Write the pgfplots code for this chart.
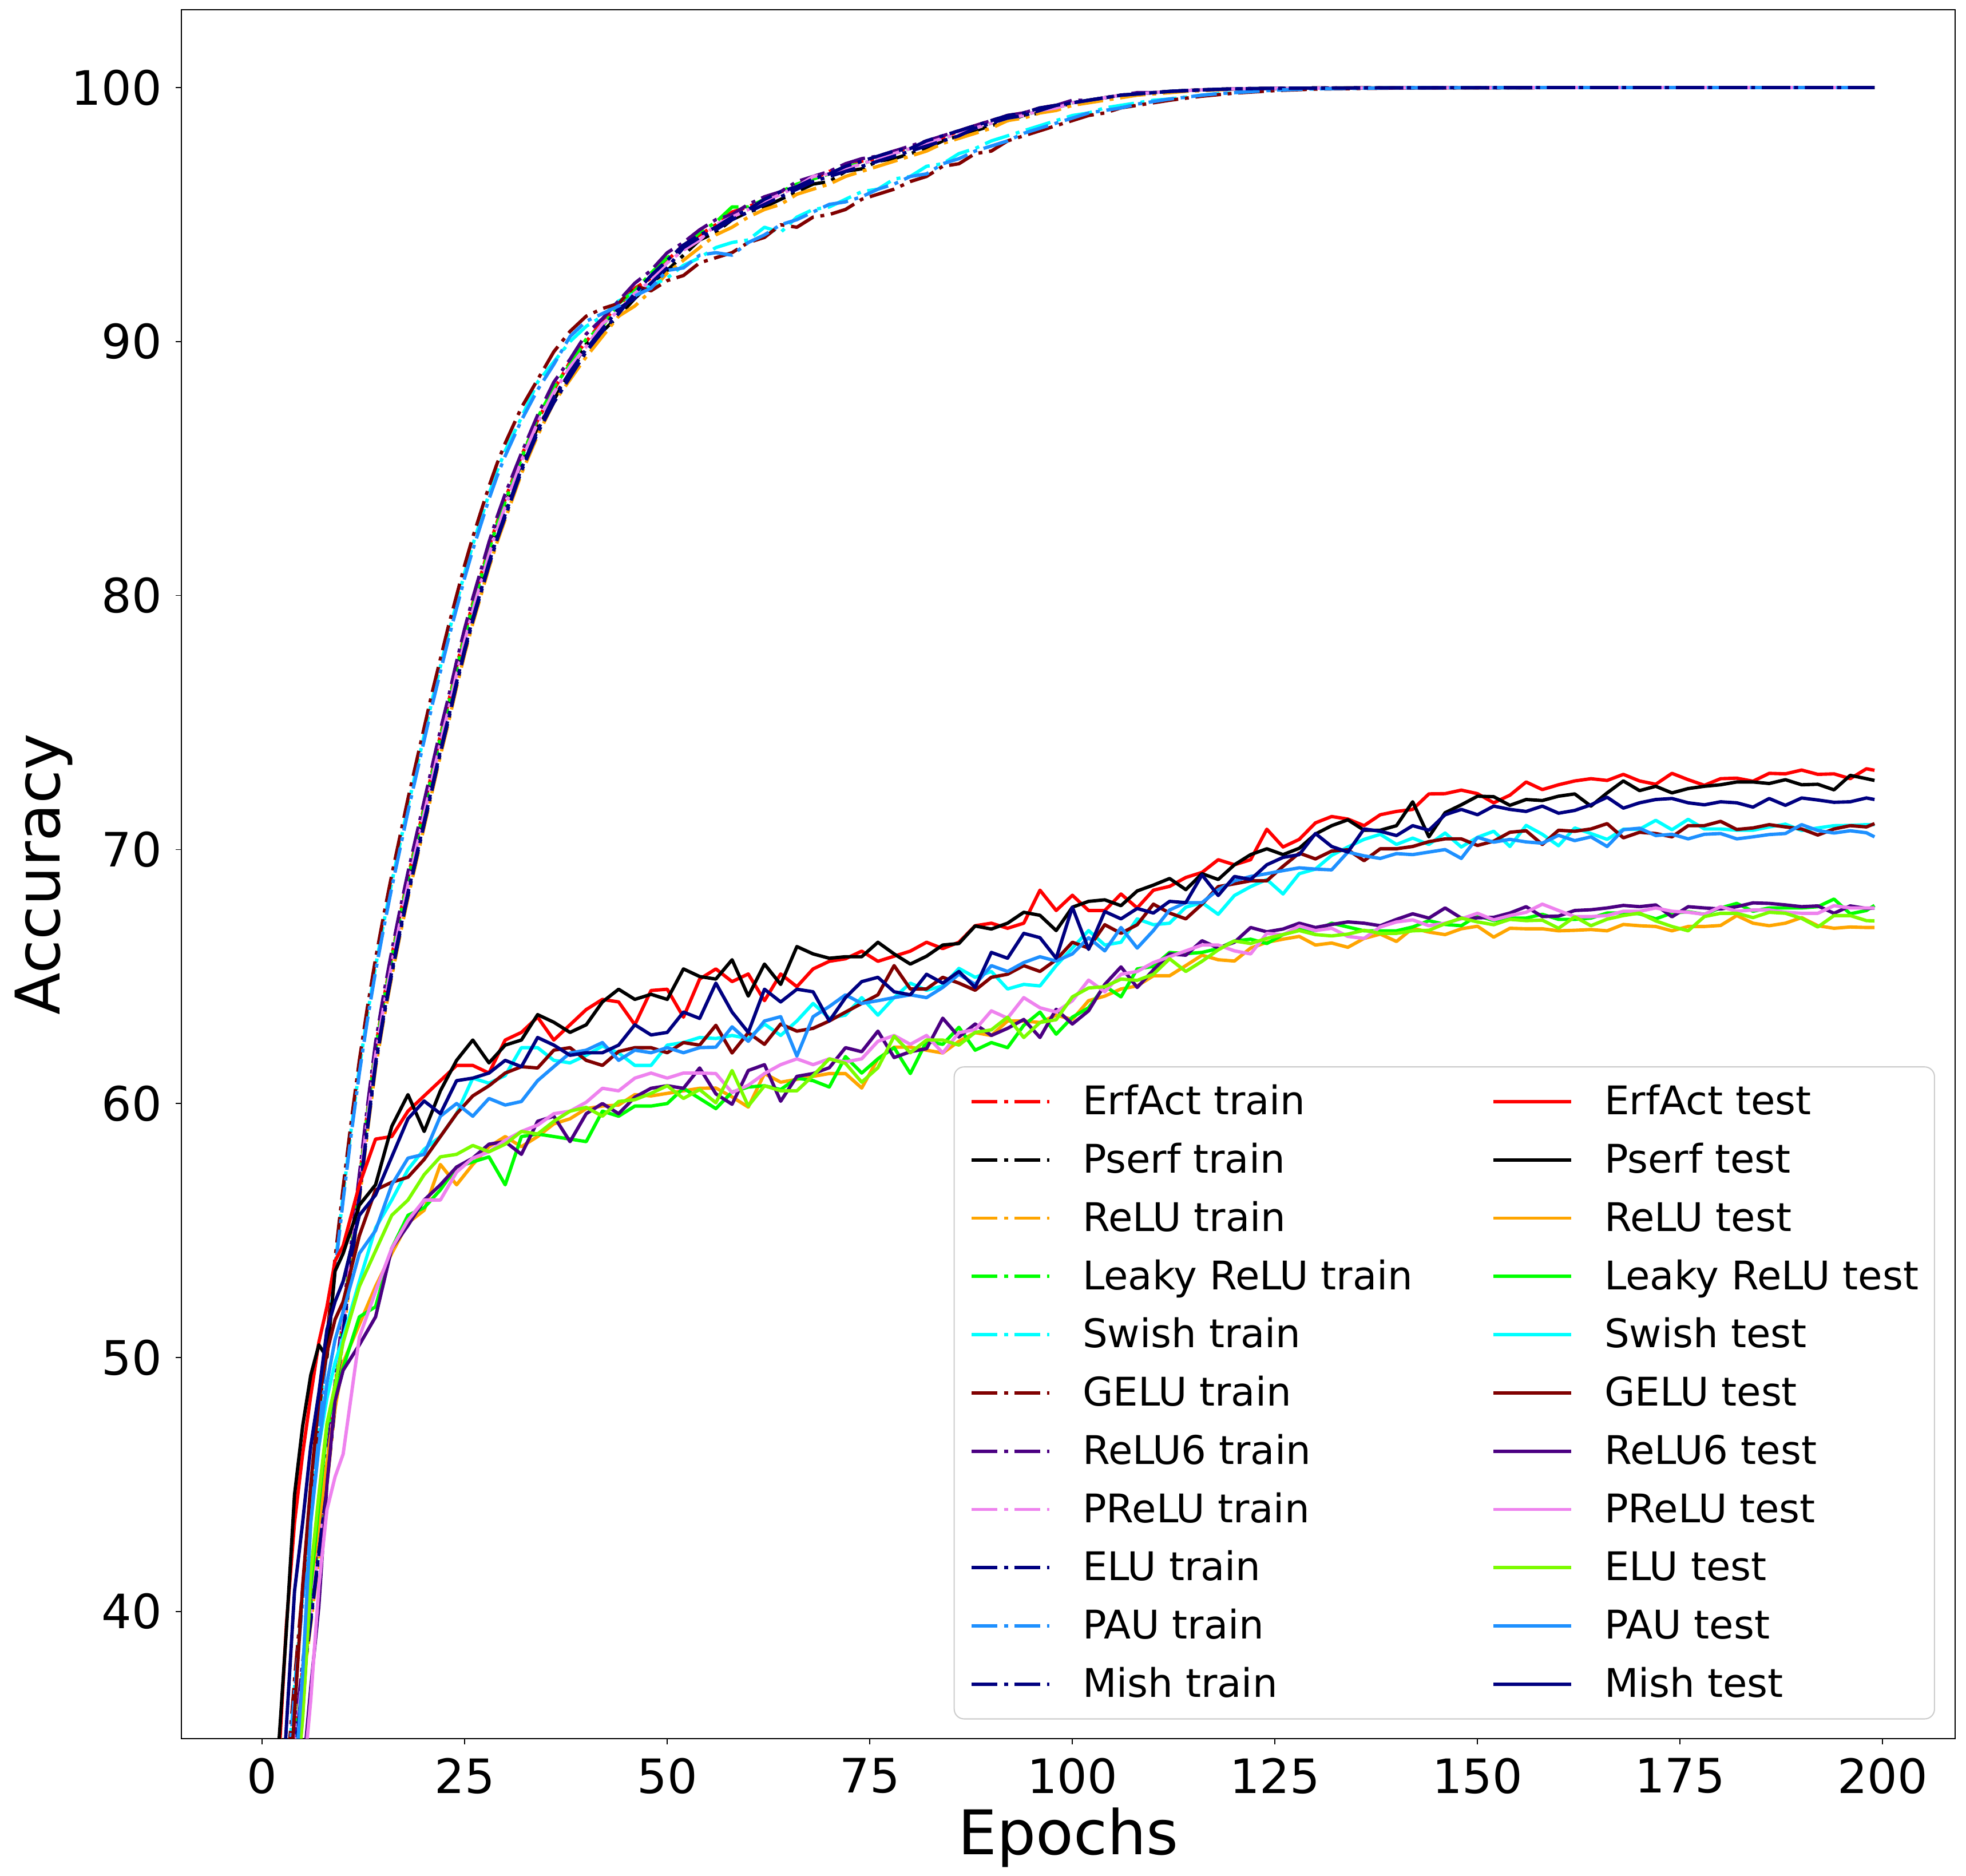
\documentclass[border=0pt]{standalone}
\usepackage{pgfplots}
\pgfplotsset{compat=1.18}
\usepackage{pgfplotstable}
\usepackage{fontspec}
\setmainfont{DejaVu Sans}

\definecolor{cRed}{HTML}{FF0000}
\definecolor{cOrange}{HTML}{FFA500}
\definecolor{cLime}{HTML}{00FF00}
\definecolor{cAqua}{HTML}{00FFFF}
\definecolor{cMaroon}{HTML}{800000}
\definecolor{cIndigo}{HTML}{4B0082}
\definecolor{cViolet}{HTML}{EE82EE}
\definecolor{cNavy}{HTML}{000080}
\definecolor{cLawn}{HTML}{7CFC00}
\definecolor{cDodger}{HTML}{1E90FF}
\definecolor{cFrame}{HTML}{CCCCCC}

% train accuracy per epoch
\pgfplotstableread{
ep erf pserf relu leaky swish gelu relu6 prelu elu pau mish
0 10.8 10.6 10.0 10.7 12.0 12.3 11.0 10.5 10.2 11.8 10.1
1 19.3 19.1 18.5 19.2 21.0 21.3 19.5 19.0 18.7 20.8 18.6
2 26.3 26.1 25.5 26.2 28.0 28.3 26.5 26.0 25.7 27.8 25.6
3 31.3 31.1 30.5 31.2 33.0 33.3 31.5 31.0 30.7 32.8 30.6
4 34.8 34.6 34.0 34.7 37.0 37.3 35.0 34.5 34.2 36.8 34.1
5 37.8 37.6 37.0 37.7 40.6 40.9 38.0 37.5 37.2 40.4 37.1
6 40.3 40.1 39.5 40.2 44.1 44.4 40.5 40.0 39.7 43.9 39.6
7 42.9 42.7 42.1 42.8 47.4 47.7 43.1 42.6 42.3 47.2 42.2
8 45.8 45.6 45.0 45.7 50.5 50.8 46.0 45.5 45.2 50.3 45.1
9 48.8 48.6 48.0 48.7 53.6 53.9 49.0 48.5 48.2 53.4 48.1
10 51.6 51.4 50.8 51.5 56.4 56.7 51.8 51.3 51.0 56.2 50.9
11 54.3 54.1 53.5 54.2 59.0 59.3 54.5 54.0 53.7 58.8 53.6
12 57.0 56.8 56.2 56.9 61.4 61.7 57.2 56.7 56.4 61.2 56.3
13 59.7 59.5 58.9 59.6 63.5 63.8 59.9 59.4 59.1 63.3 59.0
14 62.2 62.0 61.4 62.1 65.4 65.7 62.4 61.9 61.6 65.2 61.5
15 64.1 63.9 63.3 64.0 67.1 67.4 64.3 63.8 63.5 66.9 63.4
16 65.8 65.6 65.0 65.7 68.7 69.0 66.0 65.5 65.2 68.5 65.1
17 67.4 67.2 66.6 67.3 70.2 70.5 67.6 67.1 66.8 70.0 66.7
18 68.9 68.7 68.1 68.8 71.7 72.0 69.1 68.6 68.3 71.5 68.2
19 70.3 70.1 69.5 70.2 73.1 73.4 70.5 70.0 69.7 72.9 69.6
20 71.7 71.5 70.9 71.6 74.5 74.8 71.9 71.4 71.1 74.3 71.0
21 73.1 72.9 72.3 73.0 75.9 76.2 73.3 72.8 72.5 75.7 72.4
22 74.5 74.3 73.7 74.4 77.2 77.5 74.7 74.2 73.9 77.0 73.8
23 75.8 75.6 75.0 75.7 78.5 78.8 76.0 75.5 75.2 78.3 75.1
24 77.2 77.0 76.4 77.1 79.7 80.0 77.4 76.9 76.6 79.5 76.5
25 78.5 78.3 77.7 78.4 80.9 81.2 78.7 78.2 77.9 80.7 77.8
26 79.7 79.5 78.9 79.6 82.0 82.3 79.9 79.4 79.1 81.8 79.0
27 80.8 80.6 80.0 80.7 83.0 83.3 81.0 80.5 80.2 82.8 80.1
28 81.9 81.7 81.1 81.8 84.0 84.3 82.1 81.6 81.3 83.8 81.2
29 82.9 82.7 82.1 82.8 84.9 85.2 83.1 82.6 82.3 84.7 82.2
30 83.8 83.6 83.0 83.7 85.7 86.0 84.0 83.5 83.2 85.5 83.1
32 85.5 85.2 84.8 85.4 87.0 87.4 85.6 85.3 85.0 86.9 84.9
34 86.9 86.6 86.3 87.0 88.4 88.5 87.1 86.8 86.5 88.1 86.4
36 88.1 87.7 87.6 88.2 89.2 89.6 88.4 88.0 87.8 89.1 87.6
38 89.2 88.8 88.5 89.1 90.0 90.4 89.3 89.0 88.8 90.2 88.6
40 90.0 89.9 89.4 90.1 90.6 91.0 90.3 89.8 89.7 90.8 89.6
42 90.8 90.4 90.2 90.6 91.0 91.3 90.9 90.7 90.5 91.1 90.4
44 91.4 91.0 91.0 91.5 91.6 91.5 91.6 91.2 91.3 91.4 91.1
46 92.1 91.7 91.4 92.0 91.9 92.2 92.3 91.9 91.7 91.8 91.9
48 92.5 92.3 92.0 92.7 92.2 92.0 92.8 92.4 92.3 92.1 92.6
50 93.2 92.8 92.7 93.3 92.5 92.4 93.5 93.1 92.9 92.8 93.2
52 93.8 93.4 93.2 93.7 93.0 92.6 93.9 93.6 93.7 92.9 93.8
54 94.2 94.0 93.7 94.3 93.3 93.1 94.4 94.0 94.1 93.4 94.2
56 94.6 94.3 94.2 94.7 93.7 93.3 94.8 94.6 94.4 93.5 94.5
58 95.1 94.8 94.5 95.3 93.9 93.5 95.0 94.9 94.8 93.4 94.9
60 95.3 95.1 94.9 95.3 94.0 93.9 95.4 95.2 95.1 93.9 95.2
62 95.6 95.3 95.2 95.6 94.5 94.1 95.7 95.5 95.4 94.2 95.6
64 95.9 95.6 95.4 95.9 94.3 94.6 95.9 95.8 95.7 94.6 95.9
66 96.1 95.9 95.8 96.2 94.9 94.5 96.3 96.1 96.0 94.8 96.1
68 96.4 96.2 96.0 96.4 95.2 94.9 96.5 96.5 96.3 95.1 96.4
70 96.7 96.3 96.2 96.6 95.3 95.0 96.7 96.6 96.5 95.4 96.6
72 96.8 96.7 96.5 96.9 95.6 95.2 97.0 96.8 96.7 95.5 96.9
74 97.1 96.8 96.7 97.0 95.9 95.6 97.2 97.0 96.9 95.7 97.1
76 97.2 97.1 96.9 97.2 96.0 95.8 97.3 97.2 97.1 96.0 97.3
78 97.5 97.2 97.1 97.4 96.4 96.0 97.5 97.4 97.3 96.2 97.5
80 97.6 97.4 97.3 97.6 96.5 96.3 97.7 97.6 97.5 96.5 97.6
82 97.9 97.6 97.5 97.8 96.9 96.5 97.9 97.8 97.7 96.6 97.9
84 98.0 97.9 97.8 98.0 97.0 96.9 98.1 98.0 97.9 97.0 98.1
86 98.3 98.1 98.0 98.2 97.4 97.0 98.3 98.2 98.1 97.2 98.3
88 98.5 98.3 98.2 98.4 97.6 97.4 98.5 98.4 98.4 97.5 98.5
90 98.7 98.5 98.4 98.6 97.9 97.5 98.7 98.6 98.6 97.7 98.7
92 98.9 98.7 98.7 98.8 98.1 97.9 98.9 98.8 98.8 97.9 98.9
94 99.0 98.9 98.8 98.9 98.3 98.1 99.0 98.9 98.9 98.2 99.0
96 99.2 99.0 99.0 99.1 98.5 98.3 99.2 99.1 99.1 98.4 99.2
98 99.3 99.2 99.1 99.3 98.7 98.5 99.3 99.2 99.3 98.6 99.3
100 99.4 99.4 99.3 99.4 98.9 98.7 99.5 99.4 99.4 98.8 99.4
102 99.5 99.5 99.4 99.5 99.0 98.9 99.5 99.5 99.5 99.0 99.5
104 99.6 99.6 99.5 99.6 99.2 99.0 99.6 99.6 99.6 99.1 99.6
106 99.7 99.7 99.6 99.7 99.3 99.2 99.7 99.7 99.7 99.2 99.7
108 99.75 99.75 99.7 99.75 99.4 99.3 99.8 99.75 99.75 99.35 99.75
110 99.8 99.8 99.75 99.8 99.5 99.4 99.8 99.8 99.8 99.45 99.8
112 99.85 99.85 99.8 99.85 99.55 99.5 99.85 99.85 99.85 99.55 99.85
114 99.88 99.88 99.85 99.88 99.62 99.58 99.88 99.88 99.88 99.62 99.88
116 99.91 99.91 99.88 99.91 99.7 99.66 99.91 99.91 99.91 99.7 99.91
118 99.93 99.93 99.91 99.93 99.76 99.72 99.93 99.93 99.93 99.76 99.93
120 99.95 99.95 99.94 99.95 99.8 99.78 99.95 99.95 99.95 99.8 99.95
125 99.97 99.97 99.96 99.97 99.9 99.88 99.97 99.97 99.97 99.9 99.97
130 99.98 99.98 99.98 99.98 99.95 99.94 99.98 99.98 99.98 99.95 99.98
140 99.99 99.99 99.99 99.99 99.99 99.98 99.99 99.99 99.99 99.99 99.99
160 100 100 100 100 100 100 100 100 100 100 100
180 100 100 100 100 100 100 100 100 100 100 100
199 100 100 100 100 100 100 100 100 100 100 100
}\traintable

% test accuracy per epoch
\pgfplotstableread{
ep erf pserf relu leaky swish gelu relu6 prelu elu pau mish
0 15 16 9 9 10 12 8 8 8 10 14
1 25 26 16 16 18 20 14 14 15 18 22
2 33.8 34.5 23 23 26 27 21 20 22 26 30
3 39.5 39.3 28 28.5 31 31 27 26 28 31 35.5
4 43.5 44.6 32 32 33 36 31 30 32.5 33 40.8
5 46.2 47.3 35.8 36 37.5 41 33.5 33 35.8 37.5 43.5
6 48.5 49.3 41 41 43.5 45 37 36.5 41.5 43.5 46.5
7 50.6 50.5 43.4 44.2 46.5 48.3 40.2 41 44.6 46.5 48.6
8 52.0 50.0 45.9 47.3 48.4 50.2 45 44 47.4 49.0 51.1
9 53.8 53.4 48.0 48.6 49.8 51.5 48.3 45.3 48.9 50.7 52.2
10 54.4 54.1 49.8 49.6 50.8 52.2 49.5 46.2 50.6 51.8 53.0
12 56.8 56.0 51.3 51.6 53.0 54.8 50.5 50.8 52.8 54.1 55.6
14 58.6 56.8 52.8 52.0 55.1 56.6 51.6 52.6 54.2 55.0 56.4
16 58.7 59.1 54.1 54.3 56.2 56.9 54.3 54.3 55.6 56.8 57.9
18 59.7 60.35 55.3 55.6 57.4 57.1 55.2 55.4 56.2 57.85 59.4
20 60.3 58.9 55.8 55.9 58.2 57.8 56.2 56.2 57.2 58.0 60.1
22 60.9 60.5 57.6 56.6 58.7 58.7 56.8 56.2 57.9 59.5 59.6
24 61.5 61.7 56.8 57.5 59.6 59.6 57.5 57.3 58.0 60.0 60.9
26 61.5 62.5 57.6 57.7 61.0 60.3 57.85 57.85 58.35 59.5 61.0
28 61.2 61.6 58.3 57.9 60.8 60.7 58.4 58.1 58.1 60.2 61.2
30 62.5 62.3 58.7 56.8 61.1 61.2 58.5 58.55 58.4 59.94 61.7
32 62.8 62.5 58.3 58.7 62.2 61.45 58.0 58.9 58.9 60.08 61.45
34 63.4 63.5 58.7 58.8 62.2 61.4 59.3 59.15 58.8 60.9 62.6
36 62.5 63.2 59.2 58.7 61.7 62.1 59.5 59.6 59.3 61.45 62.3
38 63.1 62.8 59.4 58.6 61.6 62.2 58.5 59.7 59.7 61.99 61.9
40 63.7 63.1 59.8 58.5 61.9 61.7 59.6 60.05 59.85 62.1 62.0
42 64.1 64.0 59.9 59.7 62.26 61.5 60.0 60.6 59.5 62.4 62.0
44 64.0 64.5 59.94 59.5 61.99 62.05 59.6 60.5 60.08 61.7 62.3
46 63.1 64.1 60.35 59.9 61.5 62.2 60.25 61.0 60.15 62.1 63.1
48 64.45 64.3 60.3 59.9 61.5 62.2 60.6 61.2 60.4 62.0 62.7
50 64.5 64.1 60.4 60.0 62.3 62.0 60.7 61.0 60.7 62.2 62.8
52 63.4 65.3 60.5 60.6 62.4 62.4 60.6 61.2 60.2 62.0 63.6
54 64.9 65.0 60.6 60.2 62.6 62.3 61.4 61.2 60.55 62.2 63.35
56 65.3 64.9 60.61 59.8 62.56 63.08 60.38 61.18 60.03 62.22 64.74
58 64.8 65.66 60.26 60.45 62.68 61.99 59.97 60.43 61.3 63.02 63.6
60 65.1 64.23 59.86 60.65 62.56 62.79 61.3 60.72 59.9 62.45 62.8
62 64.05 65.49 61.18 60.7 63.13 62.33 61.53 61.18 60.7 63.25 64.5
64 65.1 64.69 60.84 60.55 62.68 63.13 60.09 61.53 60.5 63.42 64.0
66 64.6 66.18 60.95 61.0 63.25 62.85 61.07 61.76 60.5 61.87 64.5
68 65.3 65.89 61.07 60.9 63.94 62.96 61.18 61.53 61.1 63.42 64.4
70 65.6 65.72 61.18 60.65 63.36 63.25 61.41 61.76 61.76 63.82 63.25
72 65.7 65.78 61.18 61.85 63.48 63.6 62.2 61.64 61.58 64.28 64.17
74 66.0 65.78 60.61 61.2 64.17 63.94 62.04 61.76 60.84 63.94 64.8
76 65.6 66.35 61.76 61.76 63.48 64.28 62.85 62.45 61.41 64.05 64.97
78 65.8 65.89 62.22 62.2 64.17 65.43 61.81 62.68 62.65 64.17 64.4
80 66.0 65.49 62.22 61.18 64.74 64.51 62.04 62.33 62.0 64.28 64.28
82 66.35 65.8 62.1 62.45 64.46 64.51 62.16 62.68 62.5 64.17 65.09
84 66.1 66.24 61.99 62.33 64.63 64.97 63.36 61.99 62.5 64.57 64.74
86 66.35 66.3 62.45 63.0 65.32 64.74 62.62 62.79 62.3 65.09 65.2
88 67.0 66.99 62.79 62.1 64.97 64.46 63.13 62.91 62.8 64.69 64.57
90 67.1 66.87 62.68 62.4 65.2 64.97 62.68 63.65 62.9 65.43 65.95
92 66.9 67.1 63.25 62.2 64.51 65.09 62.96 63.36 63.4 65.2 65.72
94 67.1 67.53 63.25 63.08 64.69 65.43 63.31 64.17 62.6 65.55 66.7
96 68.4 67.41 63.19 63.6 64.63 65.2 62.6 63.77 63.19 65.78 66.53
98 67.6 66.81 63.48 62.73 65.43 65.66 63.71 63.6 63.3 65.61 65.72
100 68.2 67.73 63.31 63.4 66.12 66.35 63.13 64.05 64.2 65.89 67.73
102 67.6 67.96 64.05 63.77 66.81 66.12 63.65 64.86 64.55 66.53 66.07
104 67.6 68.02 64.23 64.63 66.24 67.04 64.69 64.4 64.6 66.01 67.56
106 68.25 67.79 64.51 64.2 66.35 66.7 65.38 65.09 64.9 66.93 67.27
108 67.7 68.37 64.63 65.3 67.27 67.04 64.57 65.2 64.85 66.12 67.68
110 68.4 68.6 65.03 65.4 67.04 67.85 65.26 65.55 65.09 66.81 67.5
112 68.55 68.86 65.03 65.95 67.1 67.5 65.89 65.78 65.7 67.62 67.96
114 68.9 68.42 65.43 65.9 67.73 67.27 65.84 66.01 65.2 67.91 67.91
116 69.1 69.05 65.84 65.95 67.91 67.85 66.41 66.24 65.6 67.91 69.0
118 69.6 68.82 65.66 66.1 67.45 68.54 66.12 66.24 66.05 68.42 68.19
120 69.4 69.4 65.61 66.4 68.19 68.65 66.35 66.01 66.4 68.77 68.94
122 69.6 69.8 66.12 66.47 68.54 68.77 66.93 65.89 66.3 68.94 68.82
124 70.8 70.03 66.35 66.3 68.82 68.77 66.76 66.7 66.5 69.05 69.4
126 70.1 69.8 66.47 66.65 68.25 69.34 66.87 66.64 66.65 69.17 69.69
128 70.4 70.05 66.58 66.9 69.05 69.86 67.1 66.99 66.81 69.28 69.8
130 71.05 70.61 66.24 66.8 69.23 69.63 66.93 66.81 66.65 69.23 70.63
132 71.3 70.94 66.32 67.1 69.77 69.94 67.05 66.9 66.6 69.2 70.12
134 71.2 71.17 66.15 66.95 70.1 69.99 67.15 66.58 66.67 69.9 69.9
136 70.94 70.76 66.5 66.8 70.4 69.56 67.1 66.5 66.82 69.75 70.81
138 71.37 70.76 66.67 66.8 70.6 70.03 67.0 66.95 66.7 69.65 70.72
140 71.5 70.94 66.38 66.8 70.2 70.03 67.25 67.15 66.7 69.84 70.55
142 71.58 71.88 66.9 66.95 70.45 70.12 67.47 67.23 66.8 69.8 70.94
144 72.19 70.5 66.75 67.2 70.2 70.31 67.3 67.0 66.82 69.9 70.76
146 72.2 71.45 66.65 67.05 70.65 70.42 67.7 67.1 67.08 70.0 71.37
148 72.34 71.76 66.88 67.0 70.1 70.42 67.3 67.27 67.3 69.65 71.58
150 72.2 72.1 66.98 67.4 70.48 70.16 67.31 67.49 67.15 70.48 71.37
152 71.84 72.08 66.55 67.2 70.72 70.33 67.33 67.23 67.04 70.29 71.71
154 72.14 71.74 66.9 67.3 70.12 70.68 67.5 67.4 67.25 70.4 71.58
156 72.66 71.97 66.88 67.3 70.95 70.74 67.75 67.53 67.2 70.3 71.5
158 72.36 71.93 66.88 67.45 70.6 70.2 67.36 67.85 67.22 70.25 71.71
160 72.55 72.1 66.8 67.25 70.15 70.76 67.38 67.6 66.9 70.56 71.43
162 72.7 72.19 66.82 67.25 70.85 70.72 67.6 67.36 67.35 70.35 71.54
164 72.79 71.71 66.85 67.3 70.63 70.81 67.63 67.36 67.0 70.5 71.76
166 72.72 72.23 66.8 67.5 70.4 71.02 67.7 67.4 67.26 70.12 72.06
168 72.96 72.7 67.05 67.5 70.8 70.46 67.8 67.57 67.4 70.78 71.63
170 72.7 72.32 67.0 67.47 70.8 70.68 67.75 67.57 67.5 70.84 71.84
172 72.57 72.49 66.97 67.27 71.15 70.63 67.82 67.7 67.19 70.55 71.97
174 73.0 72.23 66.8 67.5 70.78 70.5 67.35 67.57 66.97 70.6 72.01
176 72.75 72.4 66.97 67.55 71.19 70.94 67.75 67.53 66.8 70.42 71.84
178 72.53 72.49 66.97 67.45 70.81 70.94 67.7 67.45 67.36 70.6 71.76
180 72.79 72.55 67.01 67.7 70.81 71.11 67.66 67.75 67.49 70.63 71.88
182 72.81 72.66 67.4 67.88 70.76 70.79 67.75 67.57 67.49 70.42 71.84
184 72.69 72.66 67.1 67.57 70.76 70.85 67.9 67.62 67.32 70.5 71.67
186 73.0 72.6 67.0 67.7 70.89 70.98 67.88 67.62 67.53 70.59 72.01
188 72.98 72.75 67.1 67.7 71.0 70.89 67.82 67.53 67.49 70.63 71.74
190 73.13 72.55 67.32 67.7 70.75 70.81 67.75 67.49 67.29 70.98 72.03
192 72.96 72.57 67.0 67.75 70.85 70.57 67.78 67.49 66.95 70.75 71.95
194 72.98 72.35 66.9 68.05 70.94 70.81 67.49 67.79 67.4 70.65 71.86
196 72.79 72.92 66.95 67.47 70.95 70.94 67.78 67.7 67.4 70.74 71.88
198 73.18 72.79 66.93 67.6 70.98 70.89 67.68 67.7 67.2 70.66 72.03
199 73.12 72.72 66.93 67.8 70.98 71.02 67.7 67.7 67.19 70.5 71.97
}\testtable

\tikzset{
  trn/.style={line width=0.85pt, line join=round, dash pattern=on 6.5pt off 1.7pt on 1pt off 1.7pt},
  tst/.style={line width=0.85pt, line join=round, solid},
}

\begin{document}
\begin{tikzpicture}
\begin{axis}[
  name=ax,
  scale only axis,
  width=449.5pt, height=438pt,
  xmin=-9.95, xmax=208.95,
  ymin=35, ymax=103.06,
  xtick={0,25,...,200},
  ytick={40,50,...,100},
  tick pos=left,
  tick align=outside,
  major tick length=1.45pt,
  axis line style={line width=0.25pt},
  tick style={black, line width=0.25pt},
  ticklabel style={font=\fontsize{12}{14}\selectfont},
  /pgf/number format/assume math mode=true,
  xlabel={Epochs},
  ylabel={Accuracy},
  label style={font=\fontsize{15.6}{18}\selectfont},
  xlabel style={yshift=3.4pt},
  ylabel style={yshift=-7.2pt},
  legend columns=2,
  legend cell align=left,
  legend image code/.code={\draw[#1] (0pt,0pt) -- (19.7pt,0pt);},
  legend style={
    at={(0.9887,0.011)}, anchor=south east,
    draw=cFrame, line width=0.3pt, rounded corners=2.5pt,
    fill=white, fill opacity=0.8, text opacity=1,
    font=\fontsize{10}{12}\selectfont,
    inner xsep=4pt, inner ysep=4pt,
    row sep=5.16pt,
    nodes={inner sep=0pt, text height=8.1pt, text depth=1.5pt},
    /tikz/every odd column/.append style={column sep=8pt},
    /tikz/every even column/.append style={column sep=20pt},
  },
]
% train curves, dash-dot
\addplot[trn, cRed, forget plot] table[x=ep, y=erf] {\traintable};
\addplot[trn, black, forget plot] table[x=ep, y=pserf] {\traintable};
\addplot[trn, cOrange, forget plot] table[x=ep, y=relu] {\traintable};
\addplot[trn, cLime, forget plot] table[x=ep, y=leaky] {\traintable};
\addplot[trn, cAqua, forget plot] table[x=ep, y=swish] {\traintable};
\addplot[trn, cMaroon, forget plot] table[x=ep, y=gelu] {\traintable};
\addplot[trn, cIndigo, forget plot] table[x=ep, y=relu6] {\traintable};
\addplot[trn, cViolet, forget plot] table[x=ep, y=prelu] {\traintable};
\addplot[trn, cNavy, forget plot] table[x=ep, y=elu] {\traintable};
\addplot[trn, cDodger, forget plot] table[x=ep, y=pau] {\traintable};
\addplot[trn, cNavy, forget plot] table[x=ep, y=mish] {\traintable};
% test curves, solid
\addplot[tst, cRed, forget plot] table[x=ep, y=erf] {\testtable};
\addplot[tst, black, forget plot] table[x=ep, y=pserf] {\testtable};
\addplot[tst, cOrange, forget plot] table[x=ep, y=relu] {\testtable};
\addplot[tst, cLime, forget plot] table[x=ep, y=leaky] {\testtable};
\addplot[tst, cAqua, forget plot] table[x=ep, y=swish] {\testtable};
\addplot[tst, cMaroon, forget plot] table[x=ep, y=gelu] {\testtable};
\addplot[tst, cIndigo, forget plot] table[x=ep, y=relu6] {\testtable};
\addplot[tst, cViolet, forget plot] table[x=ep, y=prelu] {\testtable};
\addplot[tst, cLawn, forget plot] table[x=ep, y=elu] {\testtable};
\addplot[tst, cDodger, forget plot] table[x=ep, y=pau] {\testtable};
\addplot[tst, cNavy, forget plot] table[x=ep, y=mish] {\testtable};

% legend: train in the left column, test in the right one
\addlegendimage{trn, cRed}\addlegendentry{ErfAct train}
\addlegendimage{tst, cRed}\addlegendentry{ErfAct test}
\addlegendimage{trn, black}\addlegendentry{Pserf train}
\addlegendimage{tst, black}\addlegendentry{Pserf test}
\addlegendimage{trn, cOrange}\addlegendentry{ReLU train}
\addlegendimage{tst, cOrange}\addlegendentry{ReLU test}
\addlegendimage{trn, cLime}\addlegendentry{Leaky ReLU train}
\addlegendimage{tst, cLime}\addlegendentry{Leaky ReLU test}
\addlegendimage{trn, cAqua}\addlegendentry{Swish train}
\addlegendimage{tst, cAqua}\addlegendentry{Swish test}
\addlegendimage{trn, cMaroon}\addlegendentry{GELU train}
\addlegendimage{tst, cMaroon}\addlegendentry{GELU test}
\addlegendimage{trn, cIndigo}\addlegendentry{ReLU6 train}
\addlegendimage{tst, cIndigo}\addlegendentry{ReLU6 test}
\addlegendimage{trn, cViolet}\addlegendentry{PReLU train}
\addlegendimage{tst, cViolet}\addlegendentry{PReLU test}
\addlegendimage{trn, cNavy}\addlegendentry{ELU train}
\addlegendimage{tst, cLawn}\addlegendentry{ELU test}
\addlegendimage{trn, cDodger}\addlegendentry{PAU train}
\addlegendimage{tst, cDodger}\addlegendentry{PAU test}
\addlegendimage{trn, cNavy}\addlegendentry{Mish train}
\addlegendimage{tst, cNavy}\addlegendentry{Mish test}
\end{axis}
\pgfresetboundingbox
\path[use as bounding box] ([xshift=-46pt,yshift=-34.8pt]ax.south west) rectangle ([xshift=2.75pt,yshift=2.5pt]ax.north east);
\end{tikzpicture}
\end{document}
